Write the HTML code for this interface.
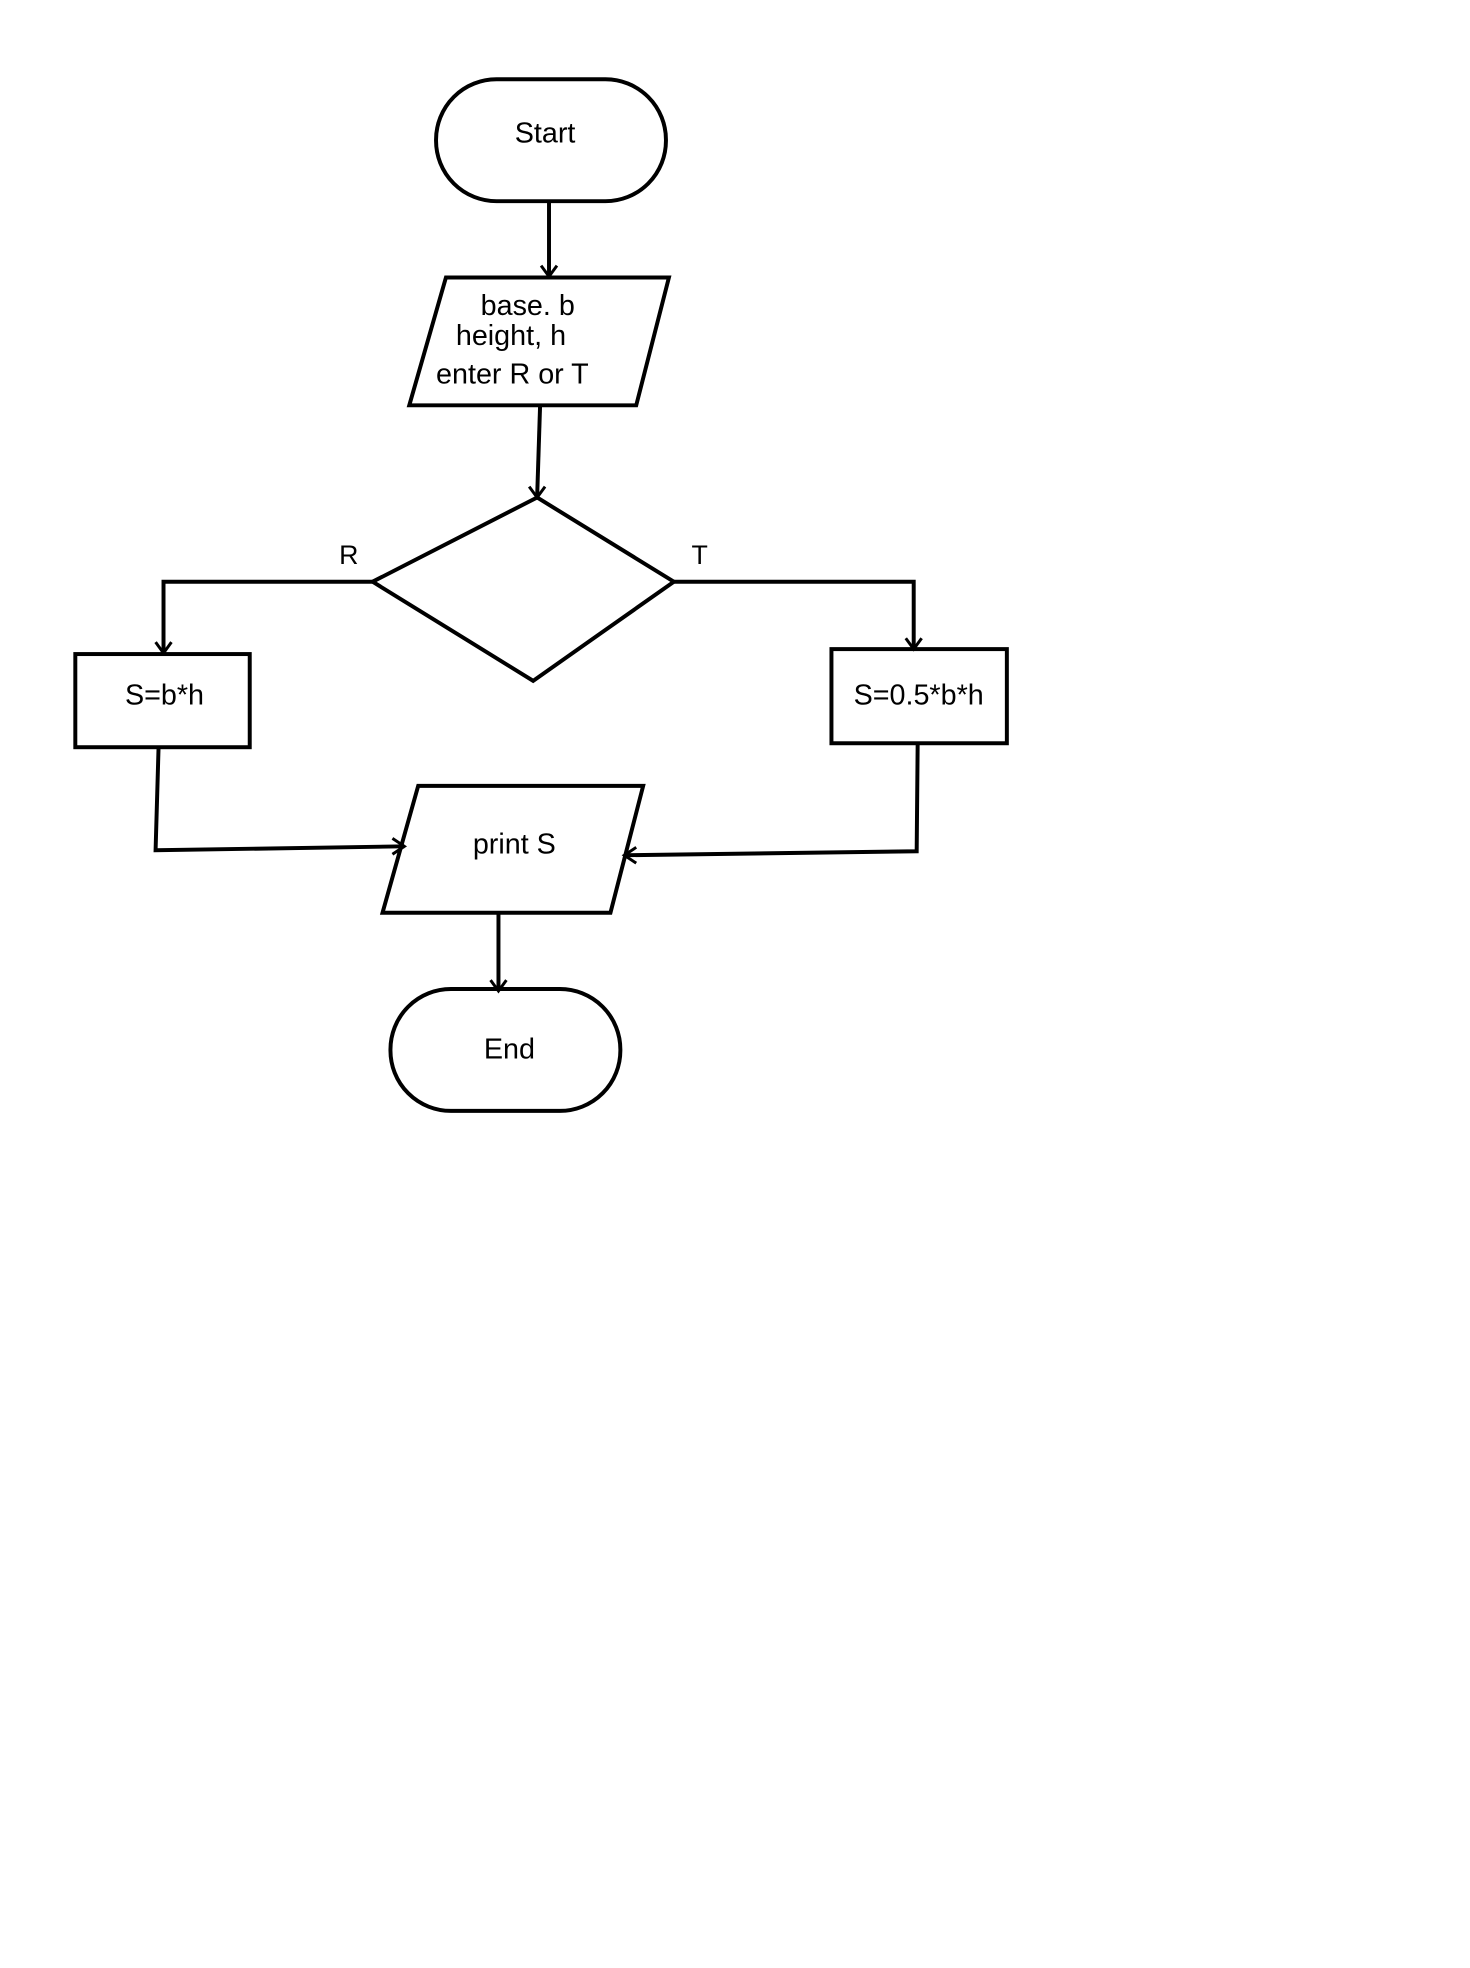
<!DOCTYPE html>
<html><head><style>
html,body{margin:0;padding:0;background:#fff;}
svg{display:block;}
text{font-family:"Liberation Sans",sans-serif;fill:#000;}
</style></head><body>
<svg width="1470" height="1968" viewBox="0 0 1470 1968" xmlns="http://www.w3.org/2000/svg">
<g transform="scale(0.991)">
<g fill="none" stroke="#000" stroke-width="4" stroke-linejoin="miter">
<rect x="440" y="80" width="232" height="123" rx="61" ry="61"/>
<polygon points="450,280 675,280 642,409 413,409"/>
<polygon points="542,502 680,587 538,687 376,587"/>
<rect x="76" y="660" width="176" height="94"/>
<rect x="839" y="655" width="177" height="95"/>
<polygon points="422,793 649,793 616,921 386,921"/>
<rect x="394" y="998" width="232" height="123" rx="61" ry="61"/>
<polyline points="554,203 554,279"/>
<polyline points="545,409 542,502"/>
<polyline points="376,587 165,587 165,659"/>
<polyline points="680,587 922,587 922,655"/>
<polyline points="160,754 157,858 408,854"/>
<polyline points="926,750 925,859 630,863"/>
<polyline points="503,921 503,1000"/>
<g stroke-width="3">
<polyline points="546,268 554,279 562,268"/>
<polyline points="534,491 542,502 550,491"/>
<polyline points="157,648 165,659 173,648"/>
<polyline points="914,644 922,655 930,644"/>
<polyline points="396,846 408,854 396,862"/>
<polyline points="642,855 630,863 642,871"/>
<polyline points="495,989 503,1000 511,989"/>
</g>
</g>
<text x="550" y="144" font-size="29" text-anchor="middle">Start</text>
<text x="485" y="318" font-size="29">base. b</text>
<text x="460" y="348" font-size="29">height, h</text>
<text x="440" y="387" font-size="29">enter R or T</text>
<text x="352" y="569" font-size="27" text-anchor="middle">R</text>
<text x="706" y="569" font-size="27" text-anchor="middle">T</text>
<text x="166" y="711" font-size="29" text-anchor="middle">S=b*h</text>
<text x="927" y="711" font-size="29" text-anchor="middle">S=0.5*b*h</text>
<text x="519" y="861" font-size="29" text-anchor="middle">print S</text>
<text x="514" y="1068" font-size="29" text-anchor="middle">End</text>
</g>
</svg>
</body></html>
